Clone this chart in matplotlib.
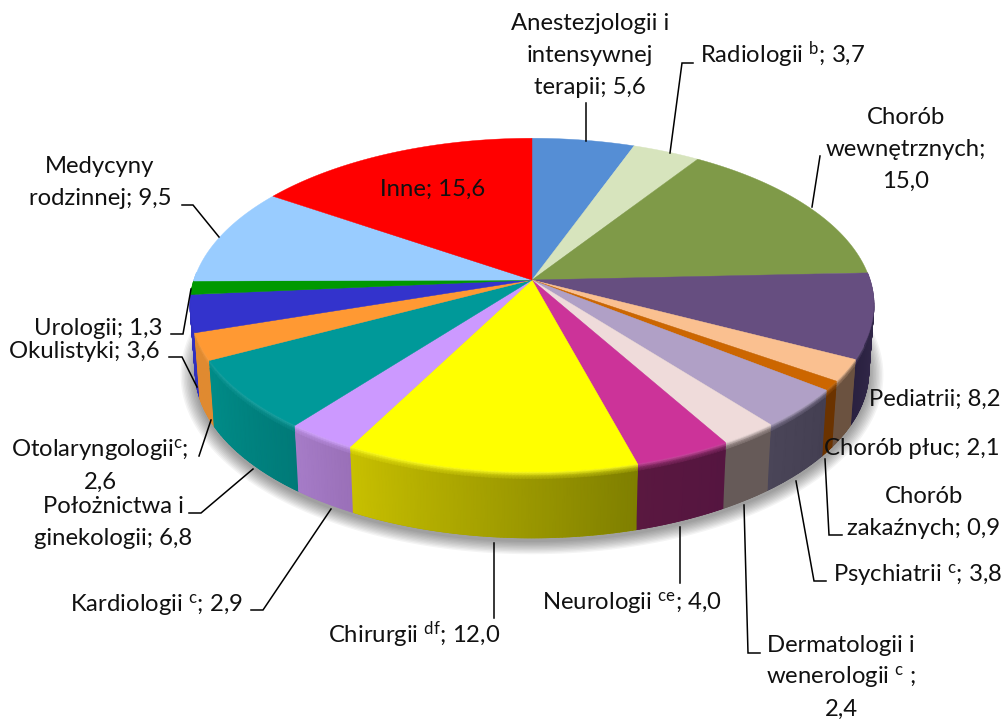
import numpy as np
import matplotlib
matplotlib.use("Agg")
import matplotlib.pyplot as plt
from matplotlib.colors import to_rgb

plt.rcParams['font.family'] = ['Lato', 'DejaVu Sans']
plt.rcParams['mathtext.fontset'] = 'custom'
plt.rcParams['mathtext.rm'] = 'Lato'
plt.rcParams['mathtext.it'] = 'Lato'
plt.rcParams['mathtext.bf'] = 'Lato'

# data, clockwise from 12 o'clock
categories = ["Anestezjologii i\nintensywnej\nterapii", "Radiologii $^{\\mathrm{b}}$", "Chorób\nwewnętrznych",
              "Pediatrii", "Chorób płuc", "Chorób\nzakaźnych", "Psychiatrii $^{\\mathrm{c}}$",
              "Dermatologii i\nwenerologii $^{\\mathrm{c}}$ ", "Neurologii $^{\\mathrm{ce}}$", "Chirurgii $^{\\mathrm{df}}$",
              "Kardiologii $^{\\mathrm{c}}$", "Położnictwa i\nginekologii", "Otolaryngologii$^{\\mathrm{c}}$",
              "Okulistyki", "Urologii", "Medycyny\nrodzinnej", "Inne"]
values = [5.6, 3.7, 15.0, 8.2, 2.1, 0.9, 3.8, 2.4, 4.0, 12.0, 2.9, 6.8, 2.6, 3.6, 1.3, 9.5, 15.6]
value_labels = ["5,6", "3,7", "15,0", "8,2", "2,1", "0,9", "3,8", "2,4", "4,0", "12,0", "2,9", "6,8", "2,6", "3,6", "1,3", "9,5", "15,6"]
label_seps = [" ", " ", "\n", " ", " ", " ", " ", "\n", " ", " ", " ", " ", "\n", " ", " ", " ", " "]

top_colors = ['#558ED5', '#D7E4BD', '#7F9A48', '#664E80', '#FAC090', '#CC6600', '#B0A0C6', '#EFDBDA',
              '#CC3399', '#FFFF00', '#CC99FF', '#009999', '#FF9933', '#3333CC', '#009900', '#99CCFF', '#FF0000']
side_start = ['#2A4A70', '#6C7260', '#3F4D24', '#3A2E52', '#6B5240', '#6B3300', '#443F52', '#665A58',
              '#551540', '#7F7F00', '#9A70B8', '#007A78', '#E08A30', '#3030C0', '#008000', '#80B0E0', '#C00000']
side_end = ['#2A4A70', '#6C7260', '#3F4D24', '#2A2140', '#6B5240', '#6B3300', '#4A4558', '#665A58',
            '#5A1840', '#C8C000', '#A67CC8', '#008C88', '#E08A30', '#3030C0', '#008000', '#80B0E0', '#C00000']

# layout in pixels
W, H = 1005, 719
CX, CY, RX, RY, PERSP, DEPTH, TAPER = 532, 280, 338, 163, 0.15, 66, 0.015
LINE_PITCH = 32


def project(theta, z=0.0):
    s, c = np.sin(theta), np.cos(theta)
    d = 1 + PERSP * c
    return CX + RX * s / d * (1 - TAPER * z / DEPTH), CY - RY * c / d + z


fig = plt.figure(figsize=(W / 100, H / 100), dpi=100)
ax = fig.add_axes([0, 0, 1, 1])
ax.set_xlim(0, W)
ax.set_ylim(H, 0)
ax.axis('off')

edges = np.radians(np.concatenate([[0], np.cumsum(values)]) * 3.6)

# soft shadow beneath the disc
th = np.linspace(0, 2 * np.pi, 361)
sx, sy = project(th, DEPTH + 3)
mx, my = sx.mean(), sy.mean()
for grow in np.arange(15, 0, -1.5):
    ax.fill(mx + (sx - mx) * (1 + grow / RX), my + (sy - my) * (1 + grow / 200), color='k', alpha=0.045, lw=0, zorder=1)

# side wall with a bright lip at the top, back slices first
zs = np.array([0, 2, 4, 8, DEPTH], dtype=float)
lip_mix = np.array([0, 0.25, 0.6, 1, 1])
mids = 0.5 * (edges[:-1] + edges[1:])
for i in np.argsort(-np.cos(mids)):
    a, b = edges[i], edges[i + 1]
    tt = np.linspace(a, b, max(int(np.degrees(b - a) / 0.5), 2) + 1)
    tt = tt[np.cos(tt) < 0.05]
    if len(tt) < 2:
        continue
    ca, cb, ct = (np.array(to_rgb(h)) for h in (side_start[i], side_end[i], top_colors[i]))
    f = ((tt - a) / (b - a))[None, :, None]
    side = ca * (1 - f) + cb * f
    lip = ct * 0.88 + 0.12
    w = lip_mix[:, None, None]
    C = np.clip(lip * (1 - w) + side * w, 0, 1)
    T, Z = np.meshgrid(tt, zs)
    X, Y = project(T, Z)
    ax.pcolormesh(X, Y, C, shading='gouraud', zorder=2 + 0.001 * (-np.cos(mids[i]) + 1))
    bx, by = project(tt, DEPTH)
    ax.plot(bx, by, color=tuple(0.5 * (ca + cb)), lw=0.7, zorder=2)

# top face
for i, (a, b) in enumerate(zip(edges[:-1], edges[1:])):
    tt = np.linspace(a, b, max(int(np.degrees(b - a)), 2) + 1)
    x, y = project(tt)
    ax.fill(np.r_[CX, x], np.r_[CY, y], color=top_colors[i], lw=0.3, zorder=3)

# leader lines
leaders = [[(586, 103), (586, 141)], [(693, 63), (682, 63), (670, 153)], [(820, 156), (812, 207)],
           None, None, [(842, 535), (829, 535), (825, 459)], [(826, 581), (814, 581), (796, 481)],
           [(760, 653), (748, 653), (744, 505)], [(680, 583), (680, 527)], [(494, 618), (494, 543)],
           [(251, 610), (263, 610), (331, 509)], [(189, 513), (201, 513), (253, 469)], [(199, 456), (211, 420)],
           [(169, 357), (182, 357), (197, 387)], [(171, 334), (183, 334), (191, 289)],
           [(182, 205), (193, 205), (219, 237)], None]
for pts in leaders:
    if pts:
        p = np.array(pts)
        ax.plot(p[:, 0], p[:, 1], color='k', lw=1.1, solid_joinstyle='miter', zorder=4)

# labels: x, first baseline y, ha
placement = [(590, 30, 'center'), (700, 63, 'left'), (906, 124, 'center'), (1001, 406, 'right'),
             (1000, 455, 'right'), (924, 503, 'center'), (1002, 582, 'right'), (841, 652, 'center'),
             (722, 610, 'right'), (500, 643, 'right'), (243, 612, 'right'), (113, 513, 'center'),
             (100, 457, 'center'), (160, 358, 'right'), (163, 335, 'right'), (100, 173, 'center'), (433, 196, 'center')]
for cat, val, sep, (x, y, ha) in zip(categories, value_labels, label_seps, placement):
    s = f"{cat};{sep}{val}"
    for n, line in enumerate(s.split("\n")):
        ax.text(x, y + n * LINE_PITCH, line, ha=ha, va='baseline', fontsize=17.2, color='#111111', zorder=5)

fig.savefig('out.png', dpi=100)
